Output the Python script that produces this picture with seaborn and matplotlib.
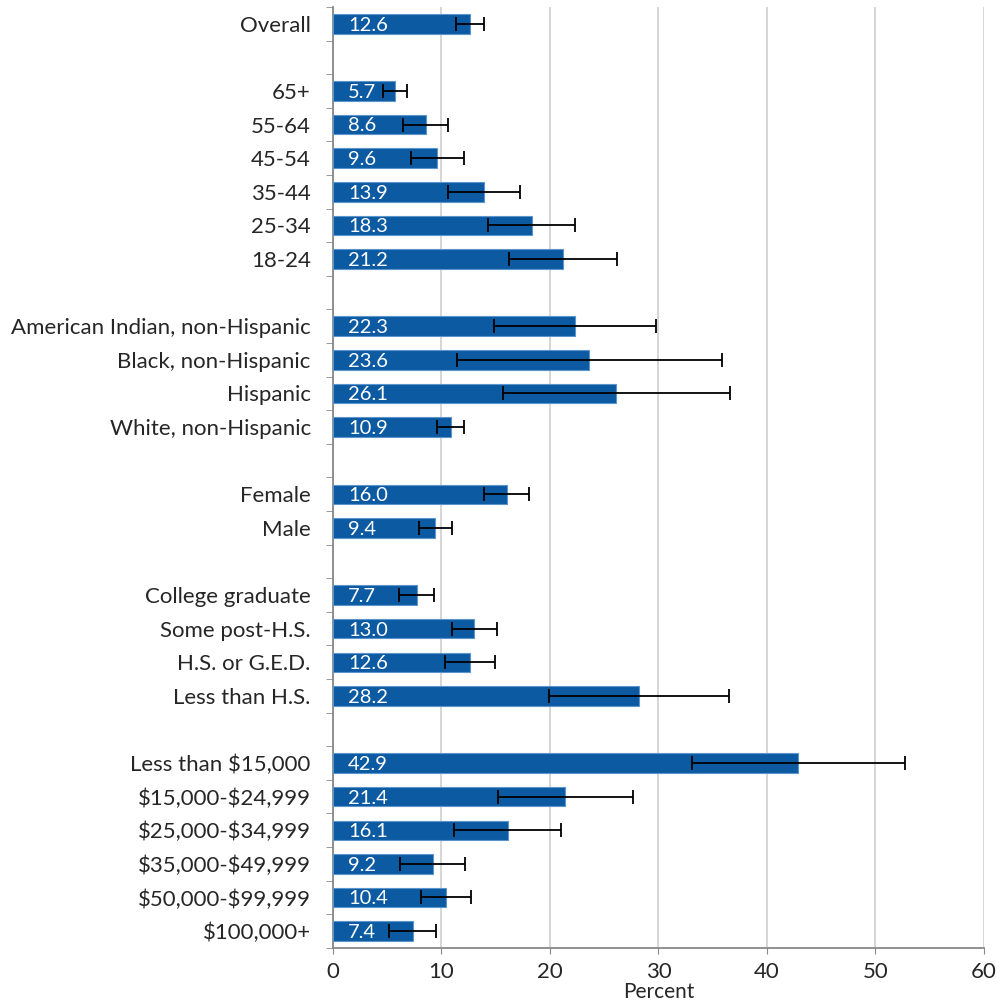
import numpy as np
import pandas as pd
import matplotlib
matplotlib.use("Agg")
import matplotlib.pyplot as plt
import seaborn as sns

# categories top to bottom; blank strings are the gaps between groups
labels = ["Overall", " ",
          "65+", "55-64", "45-54", "35-44", "25-34", "18-24", "  ",
          "American Indian, non-Hispanic", "Black, non-Hispanic", "Hispanic",
          "White, non-Hispanic", "   ",
          "Female", "Male", "    ",
          "College graduate", "Some post-H.S.", "H.S. or G.E.D.", "Less than H.S.", "     ",
          "Less than $15,000", "$15,000-$24,999", "$25,000-$34,999",
          "$35,000-$49,999", "$50,000-$99,999", "$100,000+"]

percent = [12.6, np.nan,
           5.7, 8.6, 9.6, 13.9, 18.3, 21.2, np.nan,
           22.3, 23.6, 26.1, 10.9, np.nan,
           16.0, 9.4, np.nan,
           7.7, 13.0, 12.6, 28.2, np.nan,
           42.9, 21.4, 16.1, 9.2, 10.4, 7.4]

ci_low = [11.3, np.nan,
          4.6, 6.5, 7.2, 10.6, 14.3, 16.2, np.nan,
          14.8, 11.4, 15.7, 9.6, np.nan,
          13.9, 7.9, np.nan,
          6.1, 11.0, 10.3, 19.9, np.nan,
          33.1, 15.2, 11.2, 6.2, 8.1, 5.2]

ci_high = [13.9, np.nan,
           6.8, 10.6, 12.1, 17.2, 22.3, 26.2, np.nan,
           29.8, 35.9, 36.6, 12.1, np.nan,
           18.1, 11.0, np.nan,
           9.3, 15.1, 14.9, 36.5, np.nan,
           52.7, 27.7, 21.0, 12.2, 12.7, 9.5]

df = pd.DataFrame({"label": labels, "percent": percent,
                   "low": ci_low, "high": ci_high})

sns.set_style("white")
plt.rcParams["font.family"] = ["Lato", "DejaVu Sans"]
plt.rcParams["text.parse_math"] = False  # keep the $ signs literal

fig = plt.figure(figsize=(10.06, 10.02), dpi=100)
ax = fig.add_axes([0.331, 0.054, 0.647, 0.939])

sns.barplot(data=df, y="label", x="percent", order=labels, orient="h",
            color="#0B5AA2", edgecolor="#5B95CC", linewidth=0.8,
            width=0.58, errorbar=None, saturation=1, ax=ax, zorder=3)

# confidence intervals
ypos = np.arange(len(labels))
mask = df["percent"].notna().values
err = np.vstack([df["percent"] - df["low"], df["high"] - df["percent"]])
ax.errorbar(df["percent"][mask], ypos[mask], xerr=err[:, mask],
            fmt="none", ecolor="black", elinewidth=1.3, capsize=5,
            capthick=1.3, zorder=4)

# value labels inside the bars
for y, v in zip(ypos[mask], df["percent"][mask]):
    ax.text(1.4, y + 0.04, f"{v:.1f}", color="white", fontsize=14.5,
            ha="left", va="center", zorder=5)

ax.set_xlim(0, 60)
ax.set_ylim(len(labels) - 0.5, -0.5)
ax.set_xticks(range(0, 61, 10))
ax.xaxis.grid(True, color="#D0D0D0", linewidth=1.2, zorder=0)
ax.set_axisbelow(True)

ax.set_ylabel("")
ax.set_xlabel("Percent", fontsize=15, labelpad=0)
ax.tick_params(axis="x", labelsize=16, length=4, color="#888888",
               direction="out", pad=6, bottom=True)
ax.tick_params(axis="y", labelsize=16, length=0, pad=16)
ax.set_yticks(np.arange(len(labels) + 1) - 0.5, minor=True)
ax.tick_params(axis="y", which="minor", length=5, color="#888888", left=True)

for side in ["top", "right"]:
    ax.spines[side].set_visible(False)
for side in ["left", "bottom"]:
    ax.spines[side].set_color("#888888")
    ax.spines[side].set_linewidth(1.3)

fig.savefig("out.png", dpi=100)
